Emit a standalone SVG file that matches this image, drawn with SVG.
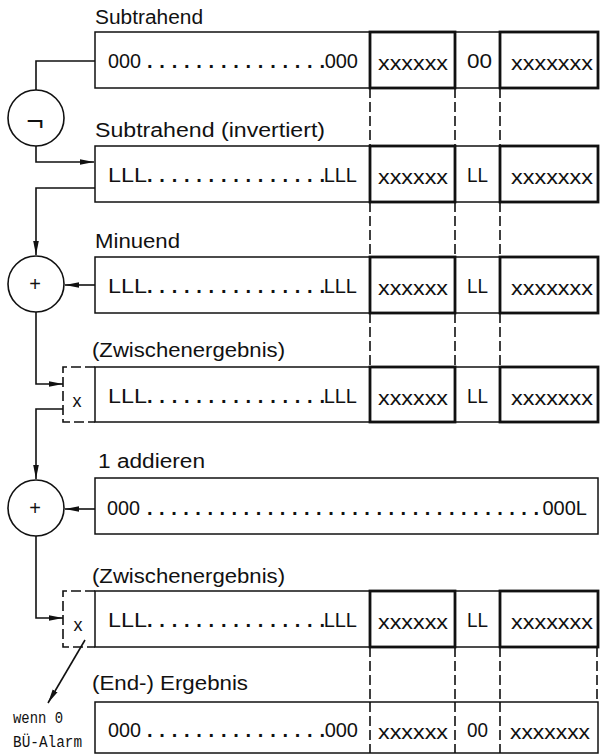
<svg xmlns="http://www.w3.org/2000/svg" width="600" height="755" viewBox="0 0 600 755">
<style>
text{font-family:"Liberation Sans",Arial,sans-serif;fill:#111}
.lbl{font-size:20px}
.val{font-size:20px}
.dots{font-size:20px;font-weight:bold}
.xs{font-size:20px}
.mono{font-family:"Liberation Mono","Courier New",monospace;font-size:16px}
.box{fill:none;stroke:#111;stroke-width:1.5}
.thick{fill:none;stroke:#111;stroke-width:2.8}
.dash{fill:none;stroke:#111;stroke-width:1.6;stroke-dasharray:10 4}
.conn{fill:none;stroke:#111;stroke-width:1.6}
.circ{fill:#fff;stroke:#111;stroke-width:1.6}
</style>
<defs>
<marker id="ah" markerUnits="userSpaceOnUse" markerWidth="15" markerHeight="7" refX="14" refY="3.5" orient="auto">
<path d="M0,0.7 L14,3.5 L0,6.3 z" fill="#111"/>
</marker>
</defs>
<rect width="600" height="755" fill="#fff"/>

<g id="connectors">
<path class="conn" d="M95,61 H36 V90"/>
<path class="conn" d="M36,146 V162 H94" marker-end="url(#ah)"/>
<path class="conn" d="M95,188 H36 V255" marker-end="url(#ah)"/>
<path class="conn" d="M95,285 H65" marker-end="url(#ah)"/>
<path class="conn" d="M36,312 V384 H63" marker-end="url(#ah)"/>
<path class="conn" d="M63,409 H36 V479" marker-end="url(#ah)"/>
<path class="conn" d="M95,509 H65" marker-end="url(#ah)"/>
<path class="conn" d="M36,536 V618 H63" marker-end="url(#ah)"/>
<path class="conn" d="M85,640 L48,703" marker-end="url(#ah)"/>
<path class="dash" d="M370,88 V146 M455,88 V146 M500,88 V146"/>
<path class="dash" d="M370,202 V257 M455,202 V257 M500,202 V257"/>
<path class="dash" d="M370,313 V367 M455,313 V367 M500,313 V367"/>
<path class="dash" d="M370,647 V702 M455,647 V702 M500,647 V702 M597,647 V702"/>
</g>

<g id="op-not">
<circle class="circ" cx="36" cy="118" r="28"/>
<text x="35" y="131" text-anchor="middle" style="font-size:30px">¬</text>
</g>
<g id="op-add1">
<circle class="circ" cx="36" cy="284" r="28"/>
<text x="35" y="291" text-anchor="middle" style="font-size:20px">+</text>
</g>
<g id="op-add2">
<circle class="circ" cx="36" cy="508" r="28"/>
<text x="35" y="515" text-anchor="middle" style="font-size:20px">+</text>
</g>

<g id="row-subtrahend">
<text class="lbl" x="95" y="24" textLength="108" lengthAdjust="spacingAndGlyphs">Subtrahend</text>
<rect class="box" x="95" y="32" width="503" height="56"/>
<rect class="thick" x="370" y="32" width="85" height="56"/>
<rect class="thick" x="500" y="32" width="98" height="56"/>
<text class="val" x="108" y="68" textLength="33" lengthAdjust="spacingAndGlyphs">000</text>
<text class="dots" x="147" y="68" textLength="178" lengthAdjust="spacing">...............</text>
<text class="val" x="358" y="68" text-anchor="end">000</text>
<text class="xs" x="378" y="70" textLength="70" lengthAdjust="spacingAndGlyphs">xxxxxx</text>
<text class="val" x="467" y="68" textLength="25" lengthAdjust="spacingAndGlyphs">00</text>
<text class="xs" x="511" y="70" textLength="82" lengthAdjust="spacingAndGlyphs">xxxxxxx</text>
</g>

<g id="row-subtrahend-inv">
<text class="lbl" x="95" y="137" textLength="230" lengthAdjust="spacingAndGlyphs">Subtrahend (invertiert)</text>
<rect class="box" x="95" y="146" width="503" height="56"/>
<rect class="thick" x="370" y="146" width="85" height="56"/>
<rect class="thick" x="500" y="146" width="98" height="56"/>
<text class="val" x="108" y="182" textLength="39" lengthAdjust="spacingAndGlyphs">LLL</text>
<text class="dots" x="147" y="182" textLength="178" lengthAdjust="spacing">...............</text>
<text class="val" x="357" y="182" text-anchor="end">LLL</text>
<text class="xs" x="378" y="184" textLength="70" lengthAdjust="spacingAndGlyphs">xxxxxx</text>
<text class="val" x="467" y="182" textLength="21" lengthAdjust="spacingAndGlyphs">LL</text>
<text class="xs" x="511" y="184" textLength="82" lengthAdjust="spacingAndGlyphs">xxxxxxx</text>
</g>

<g id="row-minuend">
<text class="lbl" x="95" y="248" textLength="85" lengthAdjust="spacingAndGlyphs">Minuend</text>
<rect class="box" x="95" y="257" width="503" height="56"/>
<rect class="thick" x="370" y="257" width="85" height="56"/>
<rect class="thick" x="500" y="257" width="98" height="56"/>
<text class="val" x="108" y="293" textLength="39" lengthAdjust="spacingAndGlyphs">LLL</text>
<text class="dots" x="147" y="293" textLength="178" lengthAdjust="spacing">...............</text>
<text class="val" x="357" y="293" text-anchor="end">LLL</text>
<text class="xs" x="378" y="295" textLength="70" lengthAdjust="spacingAndGlyphs">xxxxxx</text>
<text class="val" x="467" y="293" textLength="21" lengthAdjust="spacingAndGlyphs">LL</text>
<text class="xs" x="511" y="295" textLength="82" lengthAdjust="spacingAndGlyphs">xxxxxxx</text>
</g>

<g id="row-zwischen1">
<text class="lbl" x="92" y="357" textLength="193" lengthAdjust="spacingAndGlyphs">(Zwischenergebnis)</text>
<path class="dash" d="M95,367 H63 V422 H95"/>
<text x="77" y="407" text-anchor="middle" style="font-size:18px">x</text>
<rect class="box" x="95" y="367" width="503" height="55"/>
<rect class="thick" x="370" y="367" width="85" height="55"/>
<rect class="thick" x="500" y="367" width="98" height="55"/>
<text class="val" x="108" y="403" textLength="39" lengthAdjust="spacingAndGlyphs">LLL</text>
<text class="dots" x="147" y="403" textLength="178" lengthAdjust="spacing">...............</text>
<text class="val" x="357" y="403" text-anchor="end">LLL</text>
<text class="xs" x="378" y="405" textLength="70" lengthAdjust="spacingAndGlyphs">xxxxxx</text>
<text class="val" x="467" y="403" textLength="21" lengthAdjust="spacingAndGlyphs">LL</text>
<text class="xs" x="511" y="405" textLength="82" lengthAdjust="spacingAndGlyphs">xxxxxxx</text>
</g>

<g id="row-eins">
<text class="lbl" x="98" y="468" textLength="107" lengthAdjust="spacingAndGlyphs">1 addieren</text>
<rect class="box" x="95" y="478" width="503" height="56"/>
<text class="val" x="107" y="515" textLength="33" lengthAdjust="spacingAndGlyphs">000</text>
<text class="dots" x="147" y="515" textLength="392" lengthAdjust="spacing">.................................</text>
<text class="val" x="587" y="515" text-anchor="end">000L</text>
</g>

<g id="row-zwischen2">
<text class="lbl" x="92" y="583" textLength="193" lengthAdjust="spacingAndGlyphs">(Zwischenergebnis)</text>
<path class="dash" d="M95,591 H63 V647 H95"/>
<text x="78" y="631" text-anchor="middle" style="font-size:18px">x</text>
<rect class="box" x="95" y="591" width="503" height="56"/>
<rect class="thick" x="370" y="591" width="85" height="56"/>
<rect class="thick" x="500" y="591" width="98" height="56"/>
<text class="val" x="108" y="627" textLength="39" lengthAdjust="spacingAndGlyphs">LLL</text>
<text class="dots" x="147" y="627" textLength="178" lengthAdjust="spacing">...............</text>
<text class="val" x="357" y="627" text-anchor="end">LLL</text>
<text class="xs" x="378" y="629" textLength="70" lengthAdjust="spacingAndGlyphs">xxxxxx</text>
<text class="val" x="467" y="627" textLength="21" lengthAdjust="spacingAndGlyphs">LL</text>
<text class="xs" x="511" y="629" textLength="82" lengthAdjust="spacingAndGlyphs">xxxxxxx</text>
</g>

<g id="row-ergebnis">
<text class="lbl" x="92" y="690" textLength="156" lengthAdjust="spacingAndGlyphs">(End-) Ergebnis</text>
<rect class="box" x="95" y="702" width="503" height="51"/>
<path class="dash" d="M370,702 V753 M455,702 V753 M500,702 V753"/>
<text class="val" x="108" y="737" textLength="33" lengthAdjust="spacingAndGlyphs">000</text>
<text class="dots" x="147" y="737" textLength="178" lengthAdjust="spacing">...............</text>
<text class="val" x="358" y="737" text-anchor="end">000</text>
<text class="xs" x="378" y="739" textLength="70" lengthAdjust="spacingAndGlyphs">xxxxxx</text>
<text class="val" x="467" y="737" textLength="21" lengthAdjust="spacingAndGlyphs">00</text>
<text class="xs" x="510" y="739" textLength="80" lengthAdjust="spacingAndGlyphs">xxxxxxx</text>
</g>

<g id="alarm">
<text class="mono" x="13" y="723" textLength="50" lengthAdjust="spacingAndGlyphs">wenn 0</text>
<text class="mono" x="13" y="747" textLength="69" lengthAdjust="spacingAndGlyphs">BÜ-Alarm</text>
</g>
</svg>
